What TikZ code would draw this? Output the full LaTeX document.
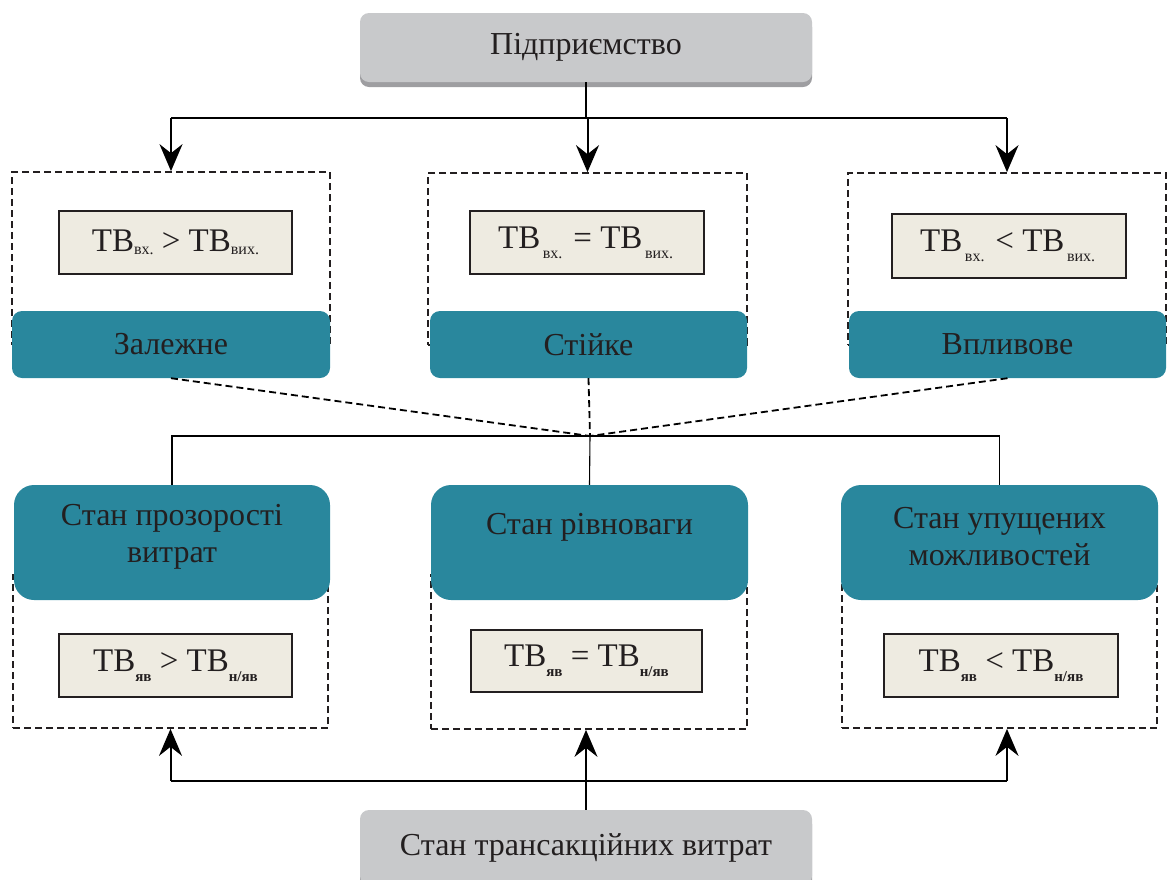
\documentclass[tikz,border=0pt]{standalone}
\usepackage{fontspec}
\setmainfont{Liberation Serif}
\usetikzlibrary{arrows.meta,shadows}
\definecolor{tealbox}{RGB}{41,135,157}
\definecolor{grayone}{RGB}{200,201,203}
\definecolor{graytwo}{RGB}{158,158,161}
\definecolor{beige}{RGB}{238,235,225}
\definecolor{ink}{RGB}{35,31,32}
\newcommand{\sbx}[2][-3pt]{\raisebox{#1}{\fontsize{16}{16}\selectfont #2}}
\newcommand{\sbb}[1]{\raisebox{-10pt}{\fontsize{15}{15}\selectfont\bfseries #1}}
\begin{document}
\begin{tikzpicture}[x=1pt,y=-1pt,
  every node/.style={text=ink, inner sep=0pt},
  bigfont/.style={font=\fontsize{32}{37}\selectfont},
  gbox/.style={rounded corners=9pt, fill=grayone, minimum width=452pt, minimum height=69pt,
    general shadow={fill=graytwo, shadow yshift=-5pt}, bigfont},
  dbox/.style={draw=ink, line width=1.7pt, dash pattern=on 7pt off 4pt},
  fbox/.style={fill=beige, draw=ink, line width=2.2pt, minimum width=233pt, minimum height=63pt,
    font=\fontsize{33}{37}\selectfont},
  tbox/.style={rounded corners=10pt, fill=tealbox, minimum width=317pt, minimum height=67pt, bigfont},
  sbox/.style={rounded corners=20pt, fill=tealbox, minimum width=317pt, minimum height=115pt},
  ttext/.style={bigfont, align=center},
  arr/.style={line width=2pt, -{Stealth[length=27pt,width=23pt,inset=9pt]}},
  solid line/.style={line width=2pt},
  thin line/.style={line width=1.1pt},
  dline/.style={line width=1.8pt, dash pattern=on 7pt off 4pt}]
\useasboundingbox (0,0) rectangle (1168,879);
\clip (0,0) rectangle (1168,879);

% top box
\node[gbox] (top) at (586,47.5) {Підприємство};

% top dashed boxes
\node[dbox, minimum width=318pt, minimum height=173pt] (dTL) at (171,258.5) {};
\node[dbox, minimum width=319pt, minimum height=172pt] (dTM) at (587.5,259) {};
\node[dbox, minimum width=318pt, minimum height=172pt] (dTR) at (1007,259) {};

% top formulas
\node[fbox] (fTL) at (175.5,242.5) {ТВ\sbx{вх.} > ТВ\sbx{вих.}};
\node[fbox, minimum width=234pt] (fTM) at (587,242.5) {ТВ\sbx[-10pt]{\,вх.\,} = ТВ\sbx[-10pt]{\,вих.\,}};
\node[fbox, minimum width=234pt, minimum height=64pt] (fTR) at (1009,246) {ТВ\sbx[-10pt]{\,вх.\,} < ТВ\sbx[-10pt]{\,вих.\,}};

% top teal boxes
\node[tbox, minimum width=318pt] (tL) at (171,344.5) {Залежне};
\node[tbox] (tM) at (588.5,344.5) {Стійке};
\node[tbox] (tR) at (1007.5,344.5) {Впливове};

% bottom dashed boxes
\node[dbox, minimum width=315pt, minimum height=153pt] (dBL) at (170.5,651.5) {};
\node[dbox, minimum width=316pt, minimum height=154pt] (dBM) at (589,652) {};
\node[dbox, minimum width=315pt, minimum height=153pt] (dBR) at (999.5,651.5) {};

% bottom formulas
\node[fbox] (fBL) at (175.5,665.5) {ТВ\sbb{яв} > ТВ\sbb{н/яв}};
\node[fbox, minimum width=231pt, minimum height=62pt] (fBM) at (586.5,661) {ТВ\sbb{яв} = ТВ\sbb{н/яв}};
\node[fbox, minimum width=234pt] (fBR) at (1001,665.5) {ТВ\sbb{яв} < ТВ\sbb{н/яв}};

% bottom teal boxes
\node[sbox, minimum width=316pt] (bL) at (172,542.5) {};
\node[sbox] (bM) at (589.5,542.5) {};
\node[sbox] (bR) at (999.5,542.5) {};
\node[ttext] (bLt) at (172,537) {Стан прозорості\\витрат};
\node[ttext] (bMt) at (589.5,527) {Стан рівноваги};
\node[ttext] (bRt) at (999.5,537) {Стан упущених\\можливостей};

% bottom gray box
\node[gbox, minimum height=75pt] (bot) at (586,847.5) {Стан трансакційних витрат};

% top connectors
\coordinate (j1) at (587,118);
\draw[solid line] (top.south) -- (top.south |- j1);
\draw[solid line] (dTL.north |- j1) -- (dTR.north |- j1);
\draw[arr] (dTL.north |- j1) -- (dTL.north);
\draw[arr] (dTM.north |- j1) -- (dTM.north);
\draw[arr] (dTR.north |- j1) -- (dTR.north);

% dashed convergence
\coordinate (c) at (590,436);
\draw[dline] (tL.south) -- (c);
\draw[dline] (tM.south) -- (c);
\draw[dline] (tR.south) -- (c);

% solid distribution
\draw[thin line] (bL.north) |- (c) -| (bR.north);
\draw[thin line] (c) -- (bM.north);

% bottom connectors
\coordinate (j2) at (589,781);
\coordinate (j2r) at (1007,781);
\draw[arr] (bot.north) -- (bot.north |- dBM.south);
\draw[solid line] (dBL.south |- j2) -- (j2r);
\draw[arr] (dBL.south |- j2) -- (dBL.south);
\draw[arr] (j2r) -- (j2r |- dBR.south);
\end{tikzpicture}
\end{document}
